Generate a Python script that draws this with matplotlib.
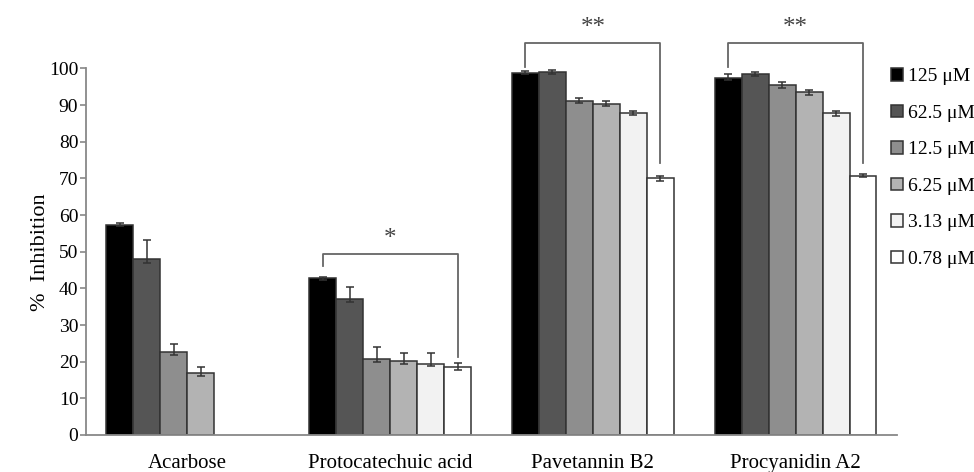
import numpy as np
import matplotlib.pyplot as plt

plt.rcParams['font.family'] = ['Liberation Serif', 'DejaVu Serif']

#----- DATA ---------------------------------------------------------
compounds = ["Acarbose", "Protocatechuic acid", "Pavetannin B2", "Procyanidin A2"]
concentrations = ["125 μM", "62.5 μM", "12.5 μM", "6.25 μM", "3.13 μM", "0.78 μM"]

# rows = concentration, columns = compound (nan = not tested)
inhibition = np.array([
    [57.3, 42.8, 98.9, 97.3],
    [47.9, 37.2, 99.0, 98.5],
    [22.6, 20.7, 91.2, 95.5],
    [16.8, 20.2, 90.4, 93.5],
    [np.nan, 19.5, 87.8, 87.8],
    [np.nan, 18.5, 70.0, 70.8],
])
err_low = np.array([
    [0.4, 0.4, 0.3, 0.5],
    [1.0, 1.0, 0.6, 0.6],
    [0.9, 0.7, 0.7, 0.7],
    [0.8, 0.8, 0.7, 0.6],
    [0.0, 0.8, 0.6, 0.7],
    [0.0, 0.7, 0.7, 0.5],
])
err_high = np.array([
    [0.5, 0.4, 0.3, 1.1],
    [5.3, 3.1, 0.6, 0.6],
    [2.3, 3.4, 0.7, 0.7],
    [1.8, 2.1, 0.7, 0.6],
    [0.0, 2.9, 0.6, 0.7],
    [0.0, 1.1, 0.7, 0.5],
])

# significance brackets: (compound index, label, top, left drop, right drop)
brackets = [
    (1, "*", 49.5, 46.0, 21.4),
    (2, "**", 107.0, 100.5, 74.2),
    (3, "**", 107.0, 100.5, 74.2),
]

colors = ["#000000", "#555555", "#8e8e8e", "#b3b3b3", "#f2f2f2", "#ffffff"]

#----- PLOT ---------------------------------------------------------
fig = plt.figure(figsize=(9.74, 4.72), dpi=100)
ax = fig.add_axes([0.0883, 0.0784, 0.8326, 0.7765])

x = np.arange(len(compounds))
width = 0.133
handles = []
for i, conc in enumerate(concentrations):
    pos = x + (i - 2.5) * width
    vals = inhibition[i]
    ok = ~np.isnan(vals)
    b = ax.bar(pos[ok], vals[ok], width, color=colors[i], edgecolor="#333333",
               linewidth=1.1, label=conc, zorder=2)
    ax.errorbar(pos[ok], vals[ok], yerr=[err_low[i][ok], err_high[i][ok]], fmt="none",
                ecolor="#333333", elinewidth=1.1, capsize=3, capthick=1.1, zorder=3)
    handles.append(b)

for k, label, top, ldrop, rdrop in brackets:
    xl = x[k] - 2.5 * width
    xr = x[k] + 2.5 * width
    ax.plot([xl, xl, xr, xr], [ldrop, top, top, rdrop], color="#666666",
            lw=1.3, clip_on=False, zorder=4)
    ax.text(x[k], top + 4.0, label, ha="center", va="center", fontsize=18,
            color="#444444", clip_on=False)

ax.set_xlim(-0.5, len(compounds) - 0.5)
ax.set_ylim(0, 100)
ax.set_yticks(np.arange(0, 101, 10))
ax.set_xticks(x)
ax.set_xticklabels(compounds, fontsize=15)
ax.tick_params(axis="x", length=0, pad=14)
ax.tick_params(axis="y", labelsize=14, color="#888888", length=4, width=1.2, pad=1.5)
ax.set_ylabel("%  Inhibition", fontsize=16)
ax.yaxis.set_label_coords(-0.045, 0.5)

for s in ["top", "right"]:
    ax.spines[s].set_visible(False)
for s in ["left", "bottom"]:
    ax.spines[s].set_color("#888888")
    ax.spines[s].set_linewidth(1.3)

fig.legend(handles=handles, loc="upper left", bbox_to_anchor=(0.915, 0.855),
           frameon=False, fontsize=14, handlelength=0.6, handleheight=0.6,
           handletextpad=0.25, labelspacing=1.0, borderaxespad=0, borderpad=0)

fig.savefig("out.png", dpi=100)
